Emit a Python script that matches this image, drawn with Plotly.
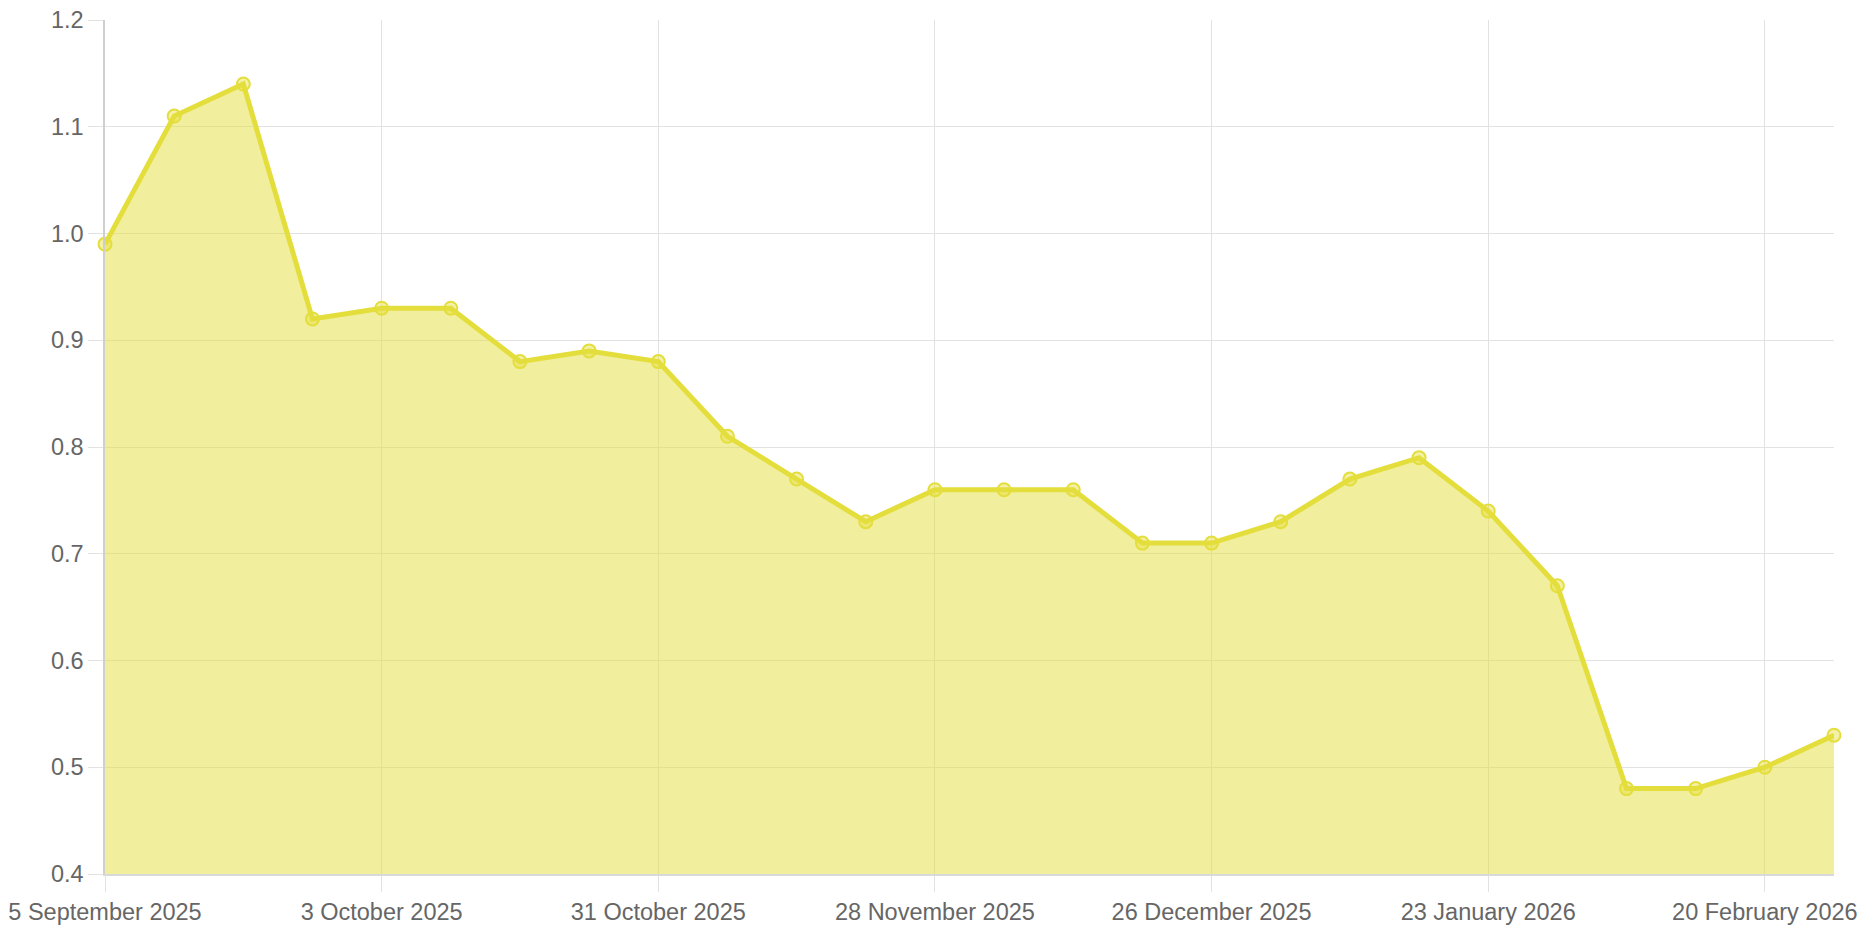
import plotly.graph_objects as go
import pandas as pd

dates = pd.date_range("2025-09-05", periods=26, freq="7D")
values = [0.99, 1.11, 1.14, 0.92, 0.93, 0.93, 0.88, 0.89, 0.88, 0.81, 0.77, 0.73, 0.76,
          0.76, 0.76, 0.71, 0.71, 0.73, 0.77, 0.79, 0.74, 0.67, 0.48, 0.48, 0.50, 0.53]
tick_dates = ["2025-09-05", "2025-10-03", "2025-10-31", "2025-11-28",
              "2025-12-26", "2026-01-23", "2026-02-20"]
tick_labels = ["5 September 2025", "3 October 2025", "31 October 2025", "28 November 2025",
               "26 December 2025", "23 January 2026", "20 February 2026"]
y_ticks = [0.4, 0.5, 0.6, 0.7, 0.8, 0.9, 1.0, 1.1, 1.2]
y_labels = ["0.4", "0.5", "0.6", "0.7", "0.8", "0.9", "1.0", "1.1", "1.2"]

LINE = "#e4de3c"
GRID = "#e2e2e2"
FONT = dict(family="Liberation Sans, Arial, Helvetica, sans-serif", size=23.5, color="#666666")

fig = go.Figure()
fig.add_trace(go.Scatter(
    x=dates, y=values, mode="lines+markers", fill="tozeroy",
    fillcolor="rgba(228,222,60,0.5)",
    line=dict(color=LINE, width=5),
    marker=dict(size=13, color="rgba(228,222,60,0.45)", line=dict(color=LINE, width=2)),
    cliponaxis=False,
    hoverinfo="x+y", showlegend=False,
))

fig.update_layout(
    width=1864, height=932,
    margin=dict(l=105, r=30, t=20, b=58),
    paper_bgcolor="white", plot_bgcolor="white",
    font=FONT,
    xaxis=dict(
        type="date", range=[dates[0], dates[-1]],
        tickvals=tick_dates, ticktext=tick_labels,
        showgrid=True, gridcolor=GRID, gridwidth=1,
        ticks="outside", ticklen=16, tickcolor=GRID, tickwidth=1,
        showline=True, linecolor="rgba(0,0,0,0.15)", linewidth=1.5,
        zeroline=False, automargin=False, tickfont=FONT,
    ),
    yaxis=dict(
        range=[0.4, 1.2], tickvals=y_ticks, ticktext=y_labels,
        showgrid=True, gridcolor=GRID, gridwidth=1,
        ticks="outside", ticklen=15, tickcolor=GRID, tickwidth=1,
        showline=True, linecolor="#cfcfcf", linewidth=1.5,
        zeroline=False, automargin=False, tickfont=FONT,
    ),
)

fig.write_html(
    "out.html",
    config={"displayModeBar": False},
    post_script="document.body.style.margin='0';document.body.style.padding='0';"
                "document.body.style.overflow='hidden';",
)
